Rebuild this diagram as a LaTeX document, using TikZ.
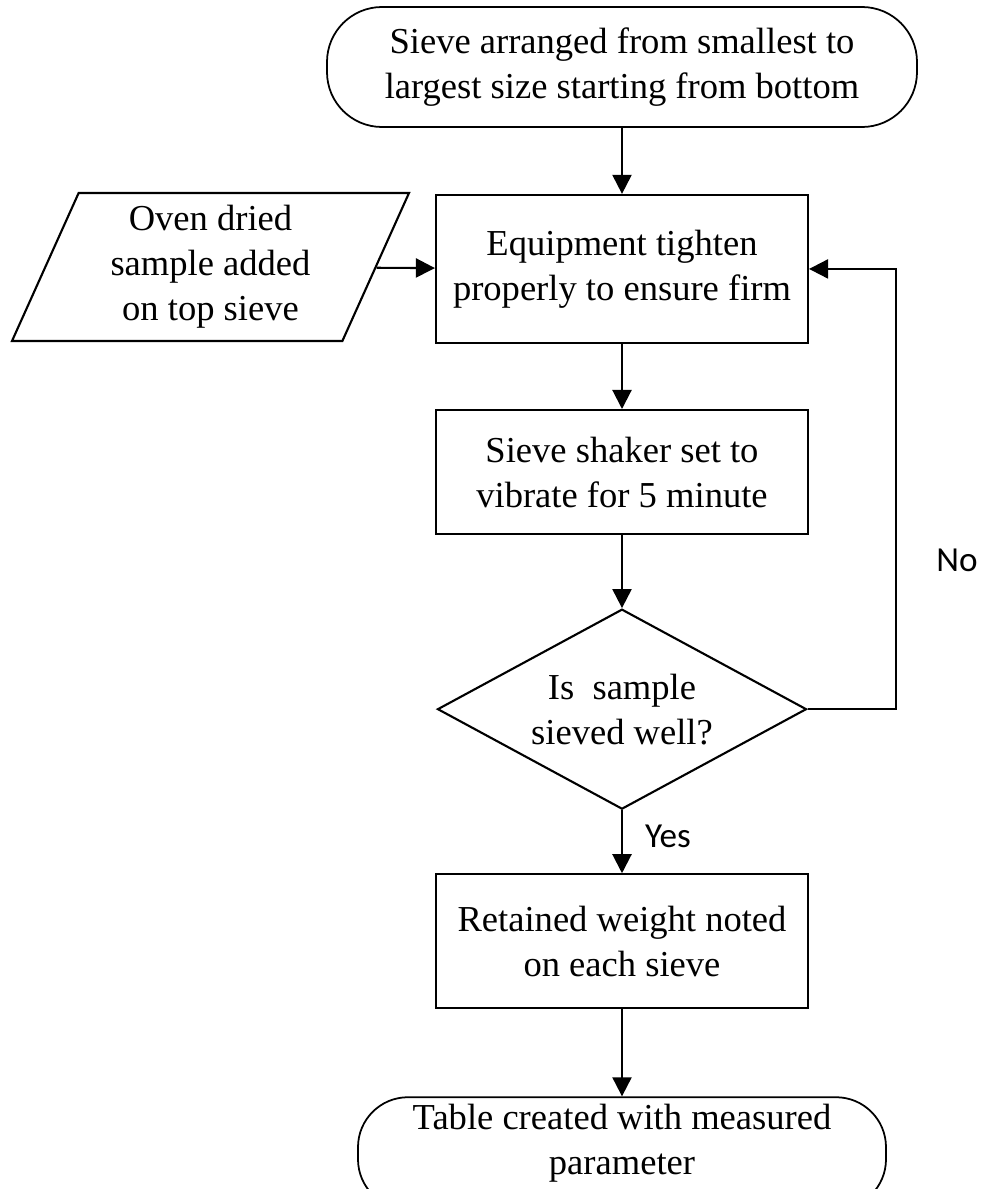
\documentclass[tikz,border=0pt]{standalone}
\usepackage{fontspec}
\setmainfont{Liberation Serif}
\newfontfamily\labelfont{Carlito}
\usetikzlibrary{arrows.meta,positioning,shapes.geometric}
\newcommand{\boxsize}{\fontsize{20.8}{25.6}\selectfont}
\tikzset{
  >={Triangle[length=3.8mm, width=3.8mm]},
  flow/.style ={->, line width=1.2pt},
  term/.style ={draw, line width=1pt, rounded corners=11mm, minimum height=24mm, align=center, font=\boxsize},
  proc/.style ={draw, line width=1.2pt, minimum width=74.4mm, align=center, font=\boxsize},
  io/.style   ={draw, line width=1.2pt, trapezium, trapezium left angle=63.7, trapezium right angle=116.3,
                trapezium stretches body, minimum width=79.4mm, minimum height=29.6mm, align=center, font=\boxsize},
  cond/.style ={draw, line width=1.2pt, diamond, aspect=1.85, inner sep=0pt, minimum width=73.8mm,
                minimum height=40mm, align=center, font=\boxsize},
  tag/.style  ={font=\labelfont\fontsize{20}{24}\selectfont}
}

\begin{document}
\begin{tikzpicture}[x=0.2mm, y=-0.2mm]
\clip (0,0) rectangle (982,1189);
% main column
\node[term, minimum width=118mm] (start) at (622,67) {Sieve arranged from smallest to\\largest size starting from bottom};
\node[proc, minimum height=29.6mm, below=13.2mm of start] (equip) {Equipment tighten\\properly to ensure firm};
\node[proc, minimum height=24.8mm, below=13mm of equip] (shaker) {Sieve shaker set to\\vibrate for 5 minute};
\node[cond, below=14.6mm of shaker] (check) {Is~ sample\\sieved well?};
\node[proc, minimum height=26.8mm, below=12.6mm of check] (weigh) {Retained weight noted\\on each sieve};
\node[term, minimum width=105.6mm, rounded corners=10mm, minimum height=22.4mm, text depth=5.5mm,
      below=17.4mm of weigh] (finish) {Table created with measured\\parameter};
% input on the left
\node[io] (oven) at (210.5,267) {Oven dried\\sample added\\on top sieve};
% answers
\node[tag] (no) at (957,560) {No};
\node[tag] (yes) at (668,836) {Yes};

\draw[flow] (start) -- (equip);
\draw[flow] (oven) -- (equip);
\draw[flow] (equip) -- (shaker);
\draw[flow] (shaker) -- (check);
\draw[flow] (check) -- (weigh);
\draw[flow] (weigh) -- (finish);
% back to tightening
\draw[flow] (check.east) -- ++(88,0) |- (equip.east);
\end{tikzpicture}
\end{document}
